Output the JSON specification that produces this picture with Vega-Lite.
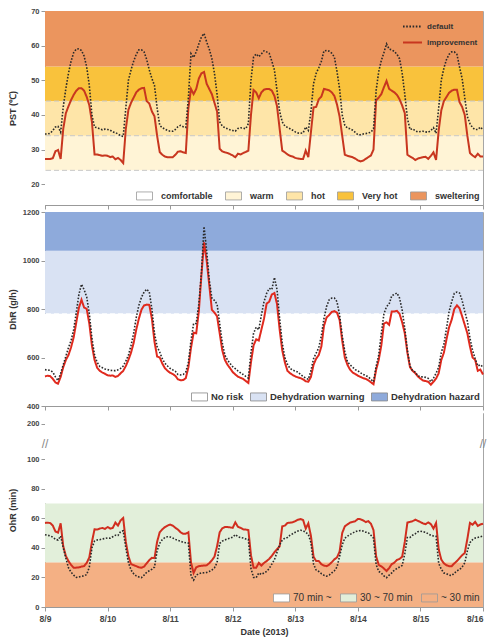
{
"$schema": "https://vega.github.io/schema/vega-lite/v6.json",
"padding": {"left": 7, "top": 6, "right": 2, "bottom": 2},
"bounds": "flush",
"spacing": 7,
"config": {
  "font": "Liberation Sans",
  "view": {"stroke": "#a6a6a6", "strokeWidth": 1},
  "axis": {"grid": false, "domainColor": "#999", "tickColor": "#999", "labelFontWeight": "bold", "labelColor": "#444", "labelFontSize": 7.5, "titleColor": "#333", "titleFontWeight": "bold", "titleFontSize": 9, "tickSize": 4, "labelPadding": 2, "labelOverlap": false},
  "legend": {"labelColor": "#333", "symbolOpacity": 1}
},
"resolve": {"scale": {"fill": "independent", "stroke": "independent", "strokeDash": "independent", "strokeWidth": "independent"}, "legend": {"fill": "independent", "stroke": "independent"}},
"datasets": {"d": [
{"t":"2013-08-09T00:00","pd":34.5,"pi":27.3,"dd":550,"di":522,"od":48.8,"oi":56.8},
{"t":"2013-08-09T01:00","pd":34.5,"pi":27.3,"dd":548,"di":525,"od":48.5,"oi":57},
{"t":"2013-08-09T02:00","pd":34.7,"pi":27.3,"dd":547,"di":523,"od":48,"oi":56.7},
{"t":"2013-08-09T03:00","pd":35.5,"pi":27.5,"dd":540,"di":512,"od":47.2,"oi":55},
{"t":"2013-08-09T04:00","pd":36.5,"pi":29.5,"dd":520,"di":497,"od":45.8,"oi":51},
{"t":"2013-08-09T05:00","pd":36.7,"pi":29.9,"dd":505,"di":492,"od":45.2,"oi":50.2},
{"t":"2013-08-09T06:00","pd":35,"pi":27.3,"dd":535,"di":520,"od":48,"oi":56.5},
{"t":"2013-08-09T07:00","pd":42.3,"pi":36,"dd":570,"di":560,"od":40,"oi":41},
{"t":"2013-08-09T08:00","pd":47.6,"pi":40.5,"dd":605,"di":590,"od":33,"oi":34.5},
{"t":"2013-08-09T09:00","pd":52,"pi":42.5,"dd":640,"di":610,"od":26.5,"oi":31},
{"t":"2013-08-09T10:00","pd":55.5,"pi":44.3,"dd":670,"di":642,"od":23.5,"oi":28.5},
{"t":"2013-08-09T11:00","pd":58,"pi":45.8,"dd":715,"di":683,"od":21.5,"oi":26.5},
{"t":"2013-08-09T12:00","pd":59,"pi":47,"dd":785,"di":745,"od":20,"oi":26.6},
{"t":"2013-08-09T13:00","pd":59.1,"pi":47.7,"dd":860,"di":805,"od":20.3,"oi":26.8},
{"t":"2013-08-09T14:00","pd":58.6,"pi":47.7,"dd":902,"di":838,"od":20.8,"oi":27.3},
{"t":"2013-08-09T15:00","pd":57,"pi":47,"dd":880,"di":806,"od":21,"oi":27.6},
{"t":"2013-08-09T16:00","pd":53.8,"pi":45.2,"dd":850,"di":800,"od":22,"oi":29.8},
{"t":"2013-08-09T17:00","pd":48.5,"pi":42.8,"dd":780,"di":740,"od":27,"oi":33.5},
{"t":"2013-08-09T18:00","pd":40,"pi":38,"dd":680,"di":650,"od":40,"oi":44},
{"t":"2013-08-09T19:00","pd":36.5,"pi":28.6,"dd":610,"di":590,"od":44.5,"oi":52.5},
{"t":"2013-08-09T20:00","pd":36.3,"pi":28.6,"dd":580,"di":558,"od":45.3,"oi":52.3},
{"t":"2013-08-09T21:00","pd":36,"pi":28.4,"dd":563,"di":545,"od":45.5,"oi":53},
{"t":"2013-08-09T22:00","pd":35.7,"pi":28.2,"dd":558,"di":538,"od":46,"oi":53.4},
{"t":"2013-08-09T23:00","pd":35.9,"pi":28.3,"dd":553,"di":533,"od":46.3,"oi":52.8},
{"t":"2013-08-10T00:00","pd":35.8,"pi":28.2,"dd":550,"di":527,"od":46.6,"oi":54},
{"t":"2013-08-10T01:00","pd":35.6,"pi":27.8,"dd":547,"di":525,"od":46.5,"oi":53},
{"t":"2013-08-10T02:00","pd":35.1,"pi":28,"dd":546,"di":526,"od":47.5,"oi":53.5},
{"t":"2013-08-10T03:00","pd":34.9,"pi":27.2,"dd":546,"di":520,"od":48.5,"oi":57},
{"t":"2013-08-10T04:00","pd":34.5,"pi":27.6,"dd":549,"di":524,"od":48.3,"oi":55},
{"t":"2013-08-10T05:00","pd":34,"pi":27,"dd":555,"di":535,"od":51,"oi":58.5},
{"t":"2013-08-10T06:00","pd":33.8,"pi":26.1,"dd":565,"di":545,"od":51.5,"oi":60.1},
{"t":"2013-08-10T07:00","pd":42,"pi":36,"dd":585,"di":565,"od":40,"oi":44},
{"t":"2013-08-10T08:00","pd":50,"pi":41.5,"dd":610,"di":590,"od":30,"oi":34.3},
{"t":"2013-08-10T09:00","pd":53,"pi":43.5,"dd":650,"di":620,"od":25,"oi":29},
{"t":"2013-08-10T10:00","pd":55.5,"pi":45,"dd":700,"di":660,"od":22.5,"oi":28.3},
{"t":"2013-08-10T11:00","pd":57.5,"pi":46.5,"dd":765,"di":715,"od":21,"oi":27.6},
{"t":"2013-08-10T12:00","pd":58.8,"pi":47.3,"dd":815,"di":760,"od":20.3,"oi":26.8},
{"t":"2013-08-10T13:00","pd":58.8,"pi":47.7,"dd":848,"di":797,"od":19.8,"oi":26.5},
{"t":"2013-08-10T14:00","pd":58.2,"pi":47.8,"dd":870,"di":815,"od":21.5,"oi":27.3},
{"t":"2013-08-10T15:00","pd":56,"pi":44,"dd":882,"di":818,"od":23.5,"oi":29.5},
{"t":"2013-08-10T16:00","pd":53,"pi":43.3,"dd":870,"di":817,"od":24.5,"oi":31.7},
{"t":"2013-08-10T17:00","pd":50.5,"pi":41,"dd":800,"di":760,"od":25.5,"oi":33.2},
{"t":"2013-08-10T18:00","pd":48.5,"pi":39.6,"dd":700,"di":665,"od":27,"oi":33},
{"t":"2013-08-10T19:00","pd":42,"pi":34,"dd":645,"di":604,"od":38,"oi":44},
{"t":"2013-08-10T20:00","pd":37,"pi":29.3,"dd":622,"di":600,"od":43,"oi":50.5},
{"t":"2013-08-10T21:00","pd":36.3,"pi":28.5,"dd":595,"di":575,"od":45.5,"oi":52.5},
{"t":"2013-08-10T22:00","pd":35.9,"pi":28,"dd":576,"di":556,"od":47,"oi":54},
{"t":"2013-08-10T23:00","pd":35.5,"pi":27.8,"dd":565,"di":545,"od":47.5,"oi":55},
{"t":"2013-08-11T00:00","pd":35.3,"pi":27.8,"dd":555,"di":537,"od":47.3,"oi":55.7},
{"t":"2013-08-11T01:00","pd":35.3,"pi":27.8,"dd":549,"di":532,"od":46.6,"oi":55},
{"t":"2013-08-11T02:00","pd":35.8,"pi":28.5,"dd":543,"di":524,"od":45.7,"oi":53.5},
{"t":"2013-08-11T03:00","pd":36.6,"pi":29.4,"dd":530,"di":510,"od":45,"oi":52.3},
{"t":"2013-08-11T04:00","pd":37,"pi":29.5,"dd":528,"di":506,"od":44.5,"oi":50.5},
{"t":"2013-08-11T05:00","pd":36.6,"pi":29.2,"dd":530,"di":507,"od":43.7,"oi":49.5},
{"t":"2013-08-11T06:00","pd":36.4,"pi":29,"dd":540,"di":515,"od":43.4,"oi":49.5},
{"t":"2013-08-11T07:00","pd":45,"pi":42,"dd":580,"di":560,"od":43.2,"oi":50.5},
{"t":"2013-08-11T08:00","pd":57.7,"pi":47.5,"dd":670,"di":640,"od":21,"oi":30},
{"t":"2013-08-11T09:00","pd":56.6,"pi":46,"dd":740,"di":702,"od":18.2,"oi":23},
{"t":"2013-08-11T10:00","pd":58.2,"pi":47.5,"dd":740,"di":700,"od":21.5,"oi":26.8},
{"t":"2013-08-11T11:00","pd":60.5,"pi":50.5,"dd":820,"di":790,"od":22.5,"oi":27.6},
{"t":"2013-08-11T12:00","pd":62.5,"pi":52,"dd":950,"di":940,"od":23,"oi":27.8},
{"t":"2013-08-11T13:00","pd":63.5,"pi":52.4,"dd":1140,"di":1075,"od":23.1,"oi":28},
{"t":"2013-08-11T14:00","pd":61.1,"pi":49,"dd":1040,"di":1000,"od":23.3,"oi":28.2},
{"t":"2013-08-11T15:00","pd":59,"pi":47.5,"dd":920,"di":900,"od":24,"oi":29.6},
{"t":"2013-08-11T16:00","pd":56.3,"pi":46,"dd":845,"di":797,"od":25,"oi":31.5},
{"t":"2013-08-11T17:00","pd":52,"pi":43.5,"dd":835,"di":785,"od":26.5,"oi":34},
{"t":"2013-08-11T18:00","pd":46,"pi":41,"dd":820,"di":770,"od":30,"oi":41},
{"t":"2013-08-11T19:00","pd":38,"pi":30.2,"dd":740,"di":700,"od":43,"oi":50.5},
{"t":"2013-08-11T20:00","pd":36.8,"pi":29.5,"dd":660,"di":630,"od":44.5,"oi":53.2},
{"t":"2013-08-11T21:00","pd":36.3,"pi":29.2,"dd":610,"di":590,"od":45.3,"oi":54},
{"t":"2013-08-11T22:00","pd":36,"pi":29,"dd":590,"di":570,"od":46,"oi":54},
{"t":"2013-08-11T23:00","pd":35.7,"pi":28.7,"dd":575,"di":556,"od":46.5,"oi":53.8},
{"t":"2013-08-12T00:00","pd":35.5,"pi":28.3,"dd":562,"di":540,"od":47.2,"oi":53.5},
{"t":"2013-08-12T01:00","pd":35.3,"pi":27.8,"dd":554,"di":530,"od":48.9,"oi":57.2},
{"t":"2013-08-12T02:00","pd":36.1,"pi":28.8,"dd":545,"di":521,"od":47.5,"oi":54.2},
{"t":"2013-08-12T03:00","pd":36.3,"pi":28.6,"dd":537,"di":516,"od":46.9,"oi":53.5},
{"t":"2013-08-12T04:00","pd":36.2,"pi":29,"dd":530,"di":512,"od":46.6,"oi":52.5},
{"t":"2013-08-12T05:00","pd":36,"pi":29.3,"dd":522,"di":503,"od":46,"oi":52.3},
{"t":"2013-08-12T06:00","pd":37.5,"pi":29.7,"dd":515,"di":495,"od":45.7,"oi":52},
{"t":"2013-08-12T07:00","pd":50,"pi":40,"dd":620,"di":580,"od":26,"oi":35},
{"t":"2013-08-12T08:00","pd":56.7,"pi":47.2,"dd":700,"di":650,"od":20,"oi":26.5},
{"t":"2013-08-12T09:00","pd":57.6,"pi":46.5,"dd":725,"di":675,"od":19.8,"oi":26.5},
{"t":"2013-08-12T10:00","pd":56.8,"pi":44.8,"dd":715,"di":670,"od":23,"oi":29.8},
{"t":"2013-08-12T11:00","pd":57.6,"pi":46.5,"dd":775,"di":715,"od":22,"oi":28},
{"t":"2013-08-12T12:00","pd":58.5,"pi":47.3,"dd":830,"di":760,"od":23,"oi":29.8},
{"t":"2013-08-12T13:00","pd":58.2,"pi":47.5,"dd":864,"di":822,"od":24,"oi":31},
{"t":"2013-08-12T14:00","pd":57.8,"pi":47.5,"dd":885,"di":830,"od":26,"oi":32.5},
{"t":"2013-08-12T15:00","pd":55.5,"pi":47,"dd":880,"di":860,"od":29,"oi":34.5},
{"t":"2013-08-12T16:00","pd":53,"pi":45.5,"dd":930,"di":866,"od":32,"oi":37},
{"t":"2013-08-12T17:00","pd":47,"pi":42.5,"dd":880,"di":820,"od":37,"oi":39},
{"t":"2013-08-12T18:00","pd":41,"pi":36,"dd":760,"di":715,"od":42,"oi":41},
{"t":"2013-08-12T19:00","pd":38,"pi":29.7,"dd":660,"di":630,"od":45.2,"oi":54.5},
{"t":"2013-08-12T20:00","pd":36.8,"pi":29.2,"dd":600,"di":580,"od":46.5,"oi":55},
{"t":"2013-08-12T21:00","pd":36.4,"pi":28.6,"dd":572,"di":545,"od":47,"oi":56.8},
{"t":"2013-08-12T22:00","pd":36,"pi":28.2,"dd":555,"di":535,"od":48.5,"oi":57},
{"t":"2013-08-12T23:00","pd":35.6,"pi":28,"dd":548,"di":528,"od":49.5,"oi":57.2},
{"t":"2013-08-13T00:00","pd":35.1,"pi":27.6,"dd":544,"di":522,"od":50.5,"oi":58},
{"t":"2013-08-13T01:00","pd":34.8,"pi":27.4,"dd":540,"di":518,"od":51.3,"oi":59},
{"t":"2013-08-13T02:00","pd":34.7,"pi":27.3,"dd":530,"di":515,"od":51.8,"oi":59.4},
{"t":"2013-08-13T03:00","pd":34.8,"pi":27.3,"dd":522,"di":510,"od":51.5,"oi":58.8},
{"t":"2013-08-13T04:00","pd":36.5,"pi":29.7,"dd":515,"di":502,"od":50.5,"oi":53},
{"t":"2013-08-13T05:00","pd":35.5,"pi":27.8,"dd":510,"di":500,"od":49,"oi":56.5},
{"t":"2013-08-13T06:00","pd":41,"pi":35,"dd":545,"di":520,"od":43.5,"oi":48},
{"t":"2013-08-13T07:00","pd":49,"pi":42.2,"dd":595,"di":570,"od":29,"oi":34},
{"t":"2013-08-13T08:00","pd":52,"pi":42.3,"dd":618,"di":595,"od":25,"oi":31},
{"t":"2013-08-13T09:00","pd":53.6,"pi":44.5,"dd":640,"di":610,"od":24,"oi":31},
{"t":"2013-08-13T10:00","pd":55.5,"pi":45.3,"dd":690,"di":645,"od":22.5,"oi":28.9},
{"t":"2013-08-13T11:00","pd":58.5,"pi":47.5,"dd":760,"di":730,"od":21.5,"oi":28},
{"t":"2013-08-13T12:00","pd":58.6,"pi":47.3,"dd":810,"di":765,"od":20.8,"oi":27.6},
{"t":"2013-08-13T13:00","pd":58.4,"pi":47.1,"dd":838,"di":775,"od":21.5,"oi":28.6},
{"t":"2013-08-13T14:00","pd":57.8,"pi":46.5,"dd":845,"di":788,"od":23,"oi":30.3},
{"t":"2013-08-13T15:00","pd":56.7,"pi":45.5,"dd":845,"di":791,"od":24.5,"oi":32.2},
{"t":"2013-08-13T16:00","pd":52.5,"pi":43,"dd":830,"di":785,"od":27,"oi":33.5},
{"t":"2013-08-13T17:00","pd":47.5,"pi":39.5,"dd":775,"di":755,"od":34.3,"oi":37.5},
{"t":"2013-08-13T18:00","pd":40,"pi":34,"dd":690,"di":670,"od":42,"oi":50},
{"t":"2013-08-13T19:00","pd":37,"pi":28.5,"dd":625,"di":600,"od":46.5,"oi":54.5},
{"t":"2013-08-13T20:00","pd":36.2,"pi":28.2,"dd":583,"di":570,"od":47.8,"oi":55.8},
{"t":"2013-08-13T21:00","pd":36,"pi":28,"dd":570,"di":550,"od":49,"oi":57},
{"t":"2013-08-13T22:00","pd":35.6,"pi":27.8,"dd":560,"di":538,"od":50,"oi":57.5},
{"t":"2013-08-13T23:00","pd":35,"pi":27.4,"dd":550,"di":532,"od":50.9,"oi":58},
{"t":"2013-08-14T00:00","pd":34.3,"pi":26.9,"dd":545,"di":525,"od":51.5,"oi":59.5},
{"t":"2013-08-14T01:00","pd":34.3,"pi":26.6,"dd":537,"di":520,"od":51.6,"oi":59.3},
{"t":"2013-08-14T02:00","pd":34.5,"pi":26.8,"dd":530,"di":515,"od":51.3,"oi":58.5},
{"t":"2013-08-14T03:00","pd":34.6,"pi":27.3,"dd":526,"di":512,"od":50.6,"oi":57.4},
{"t":"2013-08-14T04:00","pd":34.8,"pi":27.8,"dd":520,"di":506,"od":50.2,"oi":58},
{"t":"2013-08-14T05:00","pd":35,"pi":28.3,"dd":510,"di":498,"od":48.5,"oi":56.3},
{"t":"2013-08-14T06:00","pd":36,"pi":30,"dd":500,"di":490,"od":46.5,"oi":52},
{"t":"2013-08-14T07:00","pd":47,"pi":44.2,"dd":563,"di":549,"od":28.7,"oi":34.3},
{"t":"2013-08-14T08:00","pd":52.5,"pi":45,"dd":610,"di":590,"od":24,"oi":28.5},
{"t":"2013-08-14T09:00","pd":55.7,"pi":46,"dd":700,"di":650,"od":23,"oi":27.5},
{"t":"2013-08-14T10:00","pd":58,"pi":48,"dd":780,"di":740,"od":21,"oi":26},
{"t":"2013-08-14T11:00","pd":60.5,"pi":49.8,"dd":810,"di":745,"od":19.8,"oi":24.3},
{"t":"2013-08-14T12:00","pd":59,"pi":47.5,"dd":820,"di":735,"od":21.5,"oi":26.3},
{"t":"2013-08-14T13:00","pd":58.8,"pi":47,"dd":855,"di":790,"od":23,"oi":29},
{"t":"2013-08-14T14:00","pd":58.3,"pi":46.5,"dd":860,"di":790,"od":25,"oi":30},
{"t":"2013-08-14T15:00","pd":57.5,"pi":45.8,"dd":866,"di":792,"od":26,"oi":31.8},
{"t":"2013-08-14T16:00","pd":56.2,"pi":44.5,"dd":845,"di":780,"od":27,"oi":32.5},
{"t":"2013-08-14T17:00","pd":52,"pi":42.7,"dd":795,"di":745,"od":28,"oi":34},
{"t":"2013-08-14T18:00","pd":46,"pi":40.5,"dd":720,"di":700,"od":36,"oi":44},
{"t":"2013-08-14T19:00","pd":39,"pi":28.5,"dd":630,"di":620,"od":47,"oi":57},
{"t":"2013-08-14T20:00","pd":35.8,"pi":28,"dd":565,"di":560,"od":47,"oi":57.5},
{"t":"2013-08-14T21:00","pd":36,"pi":27.6,"dd":545,"di":545,"od":48.5,"oi":58},
{"t":"2013-08-14T22:00","pd":35.4,"pi":27,"dd":540,"di":536,"od":49.5,"oi":59},
{"t":"2013-08-14T23:00","pd":35.1,"pi":27.4,"dd":525,"di":522,"od":50.8,"oi":58.2},
{"t":"2013-08-15T00:00","pd":35.2,"pi":27.6,"dd":520,"di":513,"od":51.2,"oi":57.4},
{"t":"2013-08-15T01:00","pd":35.3,"pi":27.8,"dd":520,"di":505,"od":50.8,"oi":56.5},
{"t":"2013-08-15T02:00","pd":35.1,"pi":27.9,"dd":518,"di":503,"od":50.5,"oi":56},
{"t":"2013-08-15T03:00","pd":35,"pi":27.3,"dd":514,"di":500,"od":49.4,"oi":57.2},
{"t":"2013-08-15T04:00","pd":35.5,"pi":28.2,"dd":500,"di":488,"od":48.5,"oi":56},
{"t":"2013-08-15T05:00","pd":36.3,"pi":29.2,"dd":515,"di":500,"od":48,"oi":53},
{"t":"2013-08-15T06:00","pd":34.7,"pi":27,"dd":535,"di":513,"od":47.8,"oi":56.8},
{"t":"2013-08-15T07:00","pd":42,"pi":35.5,"dd":560,"di":535,"od":29.5,"oi":39},
{"t":"2013-08-15T08:00","pd":50,"pi":41.3,"dd":620,"di":590,"od":25.5,"oi":32},
{"t":"2013-08-15T09:00","pd":53.5,"pi":44,"dd":655,"di":620,"od":23,"oi":29.5},
{"t":"2013-08-15T10:00","pd":56,"pi":45.2,"dd":720,"di":675,"od":22.5,"oi":28.2},
{"t":"2013-08-15T11:00","pd":57.5,"pi":46.4,"dd":790,"di":725,"od":21.5,"oi":27.6},
{"t":"2013-08-15T12:00","pd":58.2,"pi":47,"dd":830,"di":756,"od":21.3,"oi":27.6},
{"t":"2013-08-15T13:00","pd":58.2,"pi":47.3,"dd":865,"di":800,"od":22.8,"oi":29.5},
{"t":"2013-08-15T14:00","pd":57.5,"pi":47.3,"dd":870,"di":815,"od":24.5,"oi":31},
{"t":"2013-08-15T15:00","pd":53.8,"pi":43.7,"dd":866,"di":803,"od":25.2,"oi":33},
{"t":"2013-08-15T16:00","pd":50.5,"pi":42.3,"dd":835,"di":770,"od":27,"oi":35},
{"t":"2013-08-15T17:00","pd":45,"pi":40,"dd":790,"di":735,"od":29.8,"oi":36.5},
{"t":"2013-08-15T18:00","pd":39.5,"pi":34,"dd":750,"di":700,"od":38,"oi":46},
{"t":"2013-08-15T19:00","pd":37.5,"pi":29,"dd":680,"di":645,"od":43.5,"oi":56.8},
{"t":"2013-08-15T20:00","pd":36.3,"pi":28.3,"dd":630,"di":600,"od":45.5,"oi":55.6},
{"t":"2013-08-15T21:00","pd":35.8,"pi":27.8,"dd":595,"di":590,"od":46.6,"oi":57.5},
{"t":"2013-08-15T22:00","pd":35.8,"pi":28.8,"dd":565,"di":545,"od":47,"oi":54.8},
{"t":"2013-08-15T23:00","pd":36.5,"pi":28,"dd":570,"di":550,"od":47.5,"oi":55.8},
{"t":"2013-08-16T00:00","pd":35.7,"pi":28,"dd":560,"di":530,"od":48,"oi":56.3}
]},
"vconcat": [
{
  "width": 438, "height": 194,
  "layer": [
    {"data": {"values": [{"cat":"comfortable","lo":14,"hi":24},{"cat":"warm","lo":24,"hi":34},{"cat":"hot","lo":34,"hi":44},{"cat":"Very hot","lo":44,"hi":54},{"cat":"sweltering","lo":54,"hi":70}]},
     "mark": {"type": "rect"},
     "encoding": {
       "y": {"field": "lo", "type": "quantitative", "scale": {"domain": [14, 70], "nice": false, "zero": false},
             "axis": {"values": [20,30,40,50,60,70], "labelOverlap": false, "title": "PST (\u2103)", "titleX": -28, "titleBaseline": "bottom"}},
       "y2": {"field": "hi"},
       "fill": {"field": "cat", "type": "nominal",
                "scale": {"domain": ["comfortable","warm","hot","Very hot","sweltering"], "range": ["#ffffff","#fff4d6","#fee5a8","#f9c23c","#eb955e"]},
                "legend": {"orient": "bottom-right", "direction": "horizontal", "title": null, "offset": 1, "padding": 2,
                           "symbolType": "M-1,-0.5H1V0.5H-1Z", "symbolSize": 256, "symbolStrokeColor": "#999", "symbolStrokeWidth": 0.8,
                           "labelFontSize": 9, "labelFontWeight": "bold", "labelOffset": 8, "columnPadding": 10}}
     }},
    {"data": {"values": [{"b":24},{"b":34},{"b":44}]},
     "mark": {"type": "rule", "color": "#c8c8c8", "strokeDash": [5,3], "strokeWidth": 1},
     "encoding": {"y": {"field": "b", "type": "quantitative", "axis": {"values": [20,30,40,50,60,70], "labelOverlap": false}}}},
    {"data": {"name": "d"},
     "transform": [{"fold": ["pi","pd"], "as": ["s","v"]}],
     "mark": {"type": "line", "strokeCap": "butt"},
     "encoding": {
       "x": {"field": "t", "type": "temporal",
             "scale": {"domain": [{"year":2013,"month":8,"date":9},{"year":2013,"month":8,"date":16}]},
             "axis": {"labels": false, "title": null, "tickCount": {"interval": "day", "step": 1}}},
       "y": {"field": "v", "type": "quantitative", "axis": {"values": [20,30,40,50,60,70], "labelOverlap": false}},
       "stroke": {"field": "s", "type": "nominal", "scale": {"domain": ["pd","pi"], "range": ["#2a2a2a","#c8361f"]},
                  "legend": {"orient": "top-right", "title": null, "offset": 5, "symbolType": "stroke", "symbolSize": 361, "symbolStrokeWidth": 1.8,
                             "labelFontSize": 8, "labelFontWeight": "bold", "labelOffset": 4, "rowPadding": 1,
                             "labelExpr": "datum.label == 'pd' ? 'default' : 'improvement'",
                             "encode": {"symbols": {"update": {"strokeDash": {"signal": "datum.value == 'pd' ? [1.6, 1.6] : [1, 0]"}}}}}},
       "strokeDash": {"field": "s", "type": "nominal", "scale": {"domain": ["pd","pi"], "range": [[1.6,1.6],[1,0]]}, "legend": null},
       "strokeWidth": {"field": "s", "type": "nominal", "scale": {"domain": ["pd","pi"], "range": [1.6, 2]}, "legend": null}
     }}
  ],
  "resolve": {"scale": {"fill": "independent", "stroke": "independent"}}
},
{
  "width": 438, "height": 194,
  "layer": [
    {"data": {"values": [{"cat2":"No risk","lo":400,"hi":780},{"cat2":"Dehydration warning","lo":780,"hi":1040},{"cat2":"Dehydration hazard","lo":1040,"hi":1200}]},
     "mark": {"type": "rect"},
     "encoding": {
       "y": {"field": "lo", "type": "quantitative", "scale": {"domain": [400, 1200], "nice": false, "zero": false},
             "axis": {"values": [400,600,800,1000,1200], "labelOverlap": false, "format": "d", "title": "DhR (g/h)", "titleX": -28, "titleBaseline": "bottom"}},
       "y2": {"field": "hi"},
       "fill": {"field": "cat2", "type": "nominal",
                "scale": {"domain": ["No risk","Dehydration warning","Dehydration hazard"], "range": ["#ffffff","#d9e2f3","#8eaadb"]},
                "legend": {"orient": "bottom-right", "direction": "horizontal", "title": null, "offset": 1, "padding": 2,
                           "symbolType": "M-1,-0.5H1V0.5H-1Z", "symbolSize": 256, "symbolStrokeColor": "#888", "symbolStrokeWidth": 0.8,
                           "labelFontSize": 9.5, "labelFontWeight": "bold", "labelOffset": 3, "columnPadding": 4}}
     }},
    {"data": {"values": [{"b":780}]},
     "mark": {"type": "rule", "color": "#ffffff", "strokeDash": [5,3], "strokeWidth": 1},
     "encoding": {"y": {"field": "b", "type": "quantitative"}}},
    {"data": {"name": "d"},
     "transform": [{"fold": ["di","dd"], "as": ["s","v"]}],
     "mark": {"type": "line", "strokeCap": "butt"},
     "encoding": {
       "x": {"field": "t", "type": "temporal",
             "scale": {"domain": [{"year":2013,"month":8,"date":9},{"year":2013,"month":8,"date":16}]},
             "axis": {"labels": false, "title": null, "tickCount": {"interval": "day", "step": 1}}},
       "y": {"field": "v", "type": "quantitative"},
       "stroke": {"field": "s", "type": "nominal", "scale": {"domain": ["dd","di"], "range": ["#2a2a2a","#e02a1e"]}, "legend": null},
       "strokeDash": {"field": "s", "type": "nominal", "scale": {"domain": ["dd","di"], "range": [[1.6,1.6],[1,0]]}, "legend": null},
       "strokeWidth": {"field": "s", "type": "nominal", "scale": {"domain": ["dd","di"], "range": [1.6, 2]}, "legend": null}
     }}
  ],
  "resolve": {"scale": {"fill": "independent", "stroke": "independent"}}
},
{
  "width": 438, "height": 194,
  "layer": [
    {"data": {"values": [{"cat3":"70 min ~","lo":70,"hi":230},{"cat3":"30 ~ 70 min","lo":30,"hi":70},{"cat3":"~ 30 min","lo":0,"hi":30}]},
     "mark": {"type": "rect"},
     "encoding": {
       "y": {"field": "lo", "type": "quantitative", "scale": {"domain": [0, 100, 230], "range": [194, 46, 0], "nice": false, "zero": false},
             "axis": {"values": [0,20,40,60,80,100,200], "labelOverlap": false, "title": "OhR (min)", "titleX": -28, "titleBaseline": "bottom"}},
       "y2": {"field": "hi"},
       "fill": {"field": "cat3", "type": "nominal",
                "scale": {"domain": ["70 min ~","30 ~ 70 min","~ 30 min"], "range": ["#ffffff","#e2efda","#f4b084"]},
                "legend": {"orient": "bottom-right", "direction": "horizontal", "title": null, "offset": 1, "padding": 2,
                           "symbolType": "M-1,-0.5H1V0.5H-1Z", "symbolSize": 256, "symbolStrokeColor": "#999", "symbolStrokeWidth": 0.8,
                           "labelFontSize": 10, "labelFontWeight": "normal", "labelColor": "#333", "labelOffset": 3, "columnPadding": 6}}
     }},
    {"data": {"values": [{"t":"2013-08-09T00:00","v":143,"txt":"//"},{"t":"2013-08-16T00:00","v":143,"txt":"//"}]},
     "mark": {"type": "text", "fontSize": 12, "color": "#888", "align": "center", "baseline": "middle"},
     "encoding": {"x": {"field": "t", "type": "temporal"}, "y": {"field": "v", "type": "quantitative", "axis": {"values": [0,20,40,60,80,100,200], "labelOverlap": false}}, "text": {"field": "txt"}}},
    {"data": {"name": "d"},
     "transform": [{"fold": ["oi","od"], "as": ["s","v"]}],
     "mark": {"type": "line", "strokeCap": "butt"},
     "encoding": {
       "x": {"field": "t", "type": "temporal",
             "scale": {"domain": [{"year":2013,"month":8,"date":9},{"year":2013,"month":8,"date":16}]},
             "axis": {"format": "%-m/%-d", "title": "Date (2013)", "tickCount": {"interval": "day", "step": 1}, "labelFontSize": 8.5, "labelPadding": 3, "titlePadding": 5,
                      "labelAlign": {"condition": {"test": "datum.value > time(datetime(2013, 7, 15, 12))", "value": "right"}, "value": "center"}}},
       "y": {"field": "v", "type": "quantitative", "axis": {"values": [0,20,40,60,80,100,200], "labelOverlap": false}},
       "stroke": {"field": "s", "type": "nominal", "scale": {"domain": ["od","oi"], "range": ["#2a2a2a","#d12e1f"]}, "legend": null},
       "strokeDash": {"field": "s", "type": "nominal", "scale": {"domain": ["od","oi"], "range": [[1.6,1.6],[1,0]]}, "legend": null},
       "strokeWidth": {"field": "s", "type": "nominal", "scale": {"domain": ["od","oi"], "range": [1.6, 2]}, "legend": null}
     }}
  ],
  "resolve": {"scale": {"fill": "independent", "stroke": "independent"}}
}
]
}
